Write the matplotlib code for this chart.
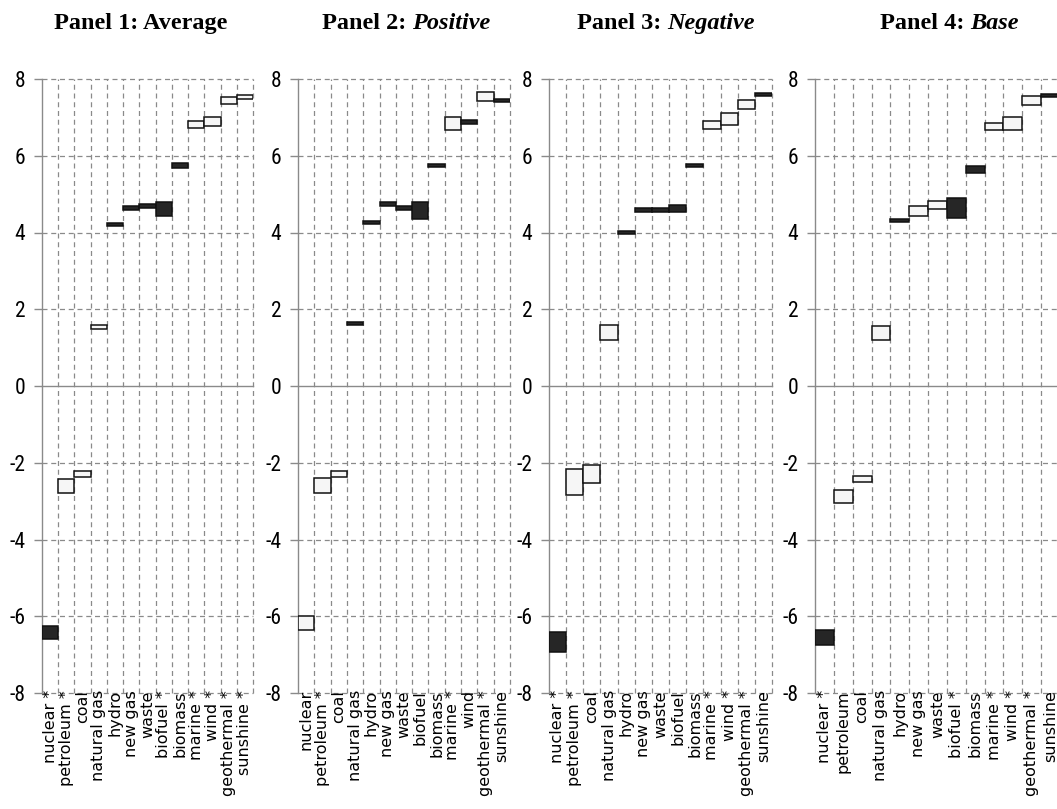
import matplotlib
matplotlib.use("Agg")
import matplotlib.pyplot as plt
from matplotlib import font_manager as fm

# ---- data -------------------------------------------------------------
categories = ["nuclear", "petroleum", "coal", "natural gas", "hydro", "new gas",
              "waste", "biofuel", "biomass", "marine", "wind", "geothermal",
              "sunshine"]

panel_heads = ["Panel 1: ", "Panel 2: ", "Panel 3: ", "Panel 4: "]
panel_names = ["Average", "Positive", "Negative", "Base"]

# start / end value of each box (end below start -> dark box)
average_start = [-6.26, -2.78, -2.36, 1.48, 4.25, 4.69, 4.73, 4.79, 5.80, 6.72, 6.77, 7.36, 7.47]
average_end   = [-6.58, -2.43, -2.21, 1.60, 4.17, 4.59, 4.63, 4.44, 5.67, 6.90, 7.00, 7.52, 7.58]

positive_start = [-6.37, -2.78, -2.36, 1.67, 4.31, 4.79, 4.69, 4.79, 5.79, 6.67, 6.92, 7.42, 7.49]
positive_end   = [-5.99, -2.40, -2.21, 1.58, 4.23, 4.70, 4.59, 4.34, 5.71, 7.00, 6.84, 7.65, 7.41]

negative_start = [-6.41, -2.84, -2.52, 1.20, 4.04, 4.63, 4.63, 4.72, 5.79, 6.71, 6.81, 7.23, 7.64]
negative_end   = [-6.92, -2.17, -2.07, 1.59, 3.97, 4.54, 4.54, 4.54, 5.71, 6.90, 7.11, 7.44, 7.56]

base_start = [-6.35, -3.04, -2.51, 1.20, 4.36, 4.44, 4.60, 4.90, 5.73, 6.66, 6.66, 7.31, 7.61]
base_end   = [-6.76, -2.71, -2.34, 1.56, 4.28, 4.69, 4.82, 4.38, 5.56, 6.85, 7.00, 7.55, 7.52]

average_marked = ["nuclear", "petroleum", "biofuel", "marine", "wind", "geothermal", "sunshine"]
positive_marked = ["petroleum", "marine", "geothermal"]
negative_marked = ["nuclear", "petroleum", "marine", "wind", "geothermal"]
base_marked = ["nuclear", "biofuel", "marine", "wind", "geothermal"]

y_ticks = [-8, -6, -4, -2, 0, 2, 4, 6, 8]

# ---- fonts ------------------------------------------------------------
def first_font(names):
    for n in names:
        try:
            fm.findfont(fm.FontProperties(family=n), fallback_to_default=False)
            return n
        except Exception:
            continue
    return "DejaVu Sans"

narrow = first_font(["Liberation Sans Narrow", "DejaVu Sans Condensed", "Roboto Condensed", "DejaVu Sans"])
serif = first_font(["Liberation Serif", "DejaVu Serif"])

# ---- figure -----------------------------------------------------------
W, H = 1057, 809
fig = plt.figure(figsize=(W / 100, H / 100), dpi=100)

panels = [
    (average_start, average_end, average_marked),
    (positive_start, positive_end, positive_marked),
    (negative_start, negative_end, negative_marked),
    (base_start, base_end, base_marked),
]
axes_px = [(42, 211), (298, 212), (549, 223), (815, 245)]
title_left_px = [54, 322, 577, 880]
top_px, bottom_px = 79, 693

grid_col = "#8a8a8a"
dark_col = "#262626"
light_col = "#f6f6f6"
edge_col = "#111111"

for i, ((start, end, marked), (lx, wx)) in enumerate(zip(panels, axes_px)):
    ax = fig.add_axes([lx / W, 1 - bottom_px / H, wx / W, (bottom_px - top_px) / H])
    ax.set_xlim(0, len(categories))
    ax.set_ylim(-8, 8)
    for s in ["top", "right", "bottom"]:
        ax.spines[s].set_visible(False)
    ax.spines["left"].set_color(grid_col)
    ax.spines["left"].set_linewidth(1.0)

    # grid
    for yv in y_ticks:
        if yv == 0:
            ax.axhline(0, color=grid_col, lw=1.0, zorder=1, clip_on=False)
        else:
            ax.axhline(yv, color=grid_col, lw=0.9, ls=(0, (4, 3)), zorder=1, clip_on=False)
    for xv in range(1, len(categories) + 1):
        ax.axvline(xv, ymin=0, ymax=1, color=grid_col, lw=0.9, ls=(0, (4, 3)), zorder=1, clip_on=False)

    # boxes
    xs = list(range(len(categories)))
    heights = [e - s for s, e in zip(start, end)]
    colors = [dark_col if h < 0 else light_col for h in heights]
    ax.bar(xs, heights, bottom=start, width=1.0, align="edge", color=colors,
           edgecolor=edge_col, linewidth=1.1, zorder=3)

    ax.set_yticks(y_ticks)
    ax.set_yticklabels([str(t) for t in y_ticks], fontfamily=narrow, fontsize=15.5)
    ax.tick_params(axis="y", length=6, width=1.0, color=grid_col, pad=6)

    labels = [c + (" *" if c in marked else "") for c in categories]
    ax.set_xticks([x + 0.5 for x in xs])
    ax.set_xticklabels(labels, rotation=90, fontsize=11.5, fontfamily="DejaVu Sans",
                       va="top", ha="center")
    ax.tick_params(axis="x", length=0, pad=-2)

    # title: bold head, italic name for panels 2-4
    ty = 1 - 29 / H
    if i == 0:
        fig.text(title_left_px[i] / W, ty, panel_heads[i] + panel_names[i],
                 fontfamily=serif, fontweight="bold", fontsize=17.5, va="baseline", ha="left")
    else:
        t1 = fig.text(title_left_px[i] / W, ty, panel_heads[i], fontfamily=serif,
                      fontweight="bold", fontsize=17.5, va="baseline", ha="left")
        fig.texts.append(matplotlib.text.Annotation(
            panel_names[i], xy=(1, 0), xycoords=t1, va="bottom", ha="left",
            fontfamily=serif, fontweight="bold", fontstyle="italic", fontsize=17.5))
        fig.texts[-1].set_figure(fig)

fig.savefig("out.png", dpi=100)
